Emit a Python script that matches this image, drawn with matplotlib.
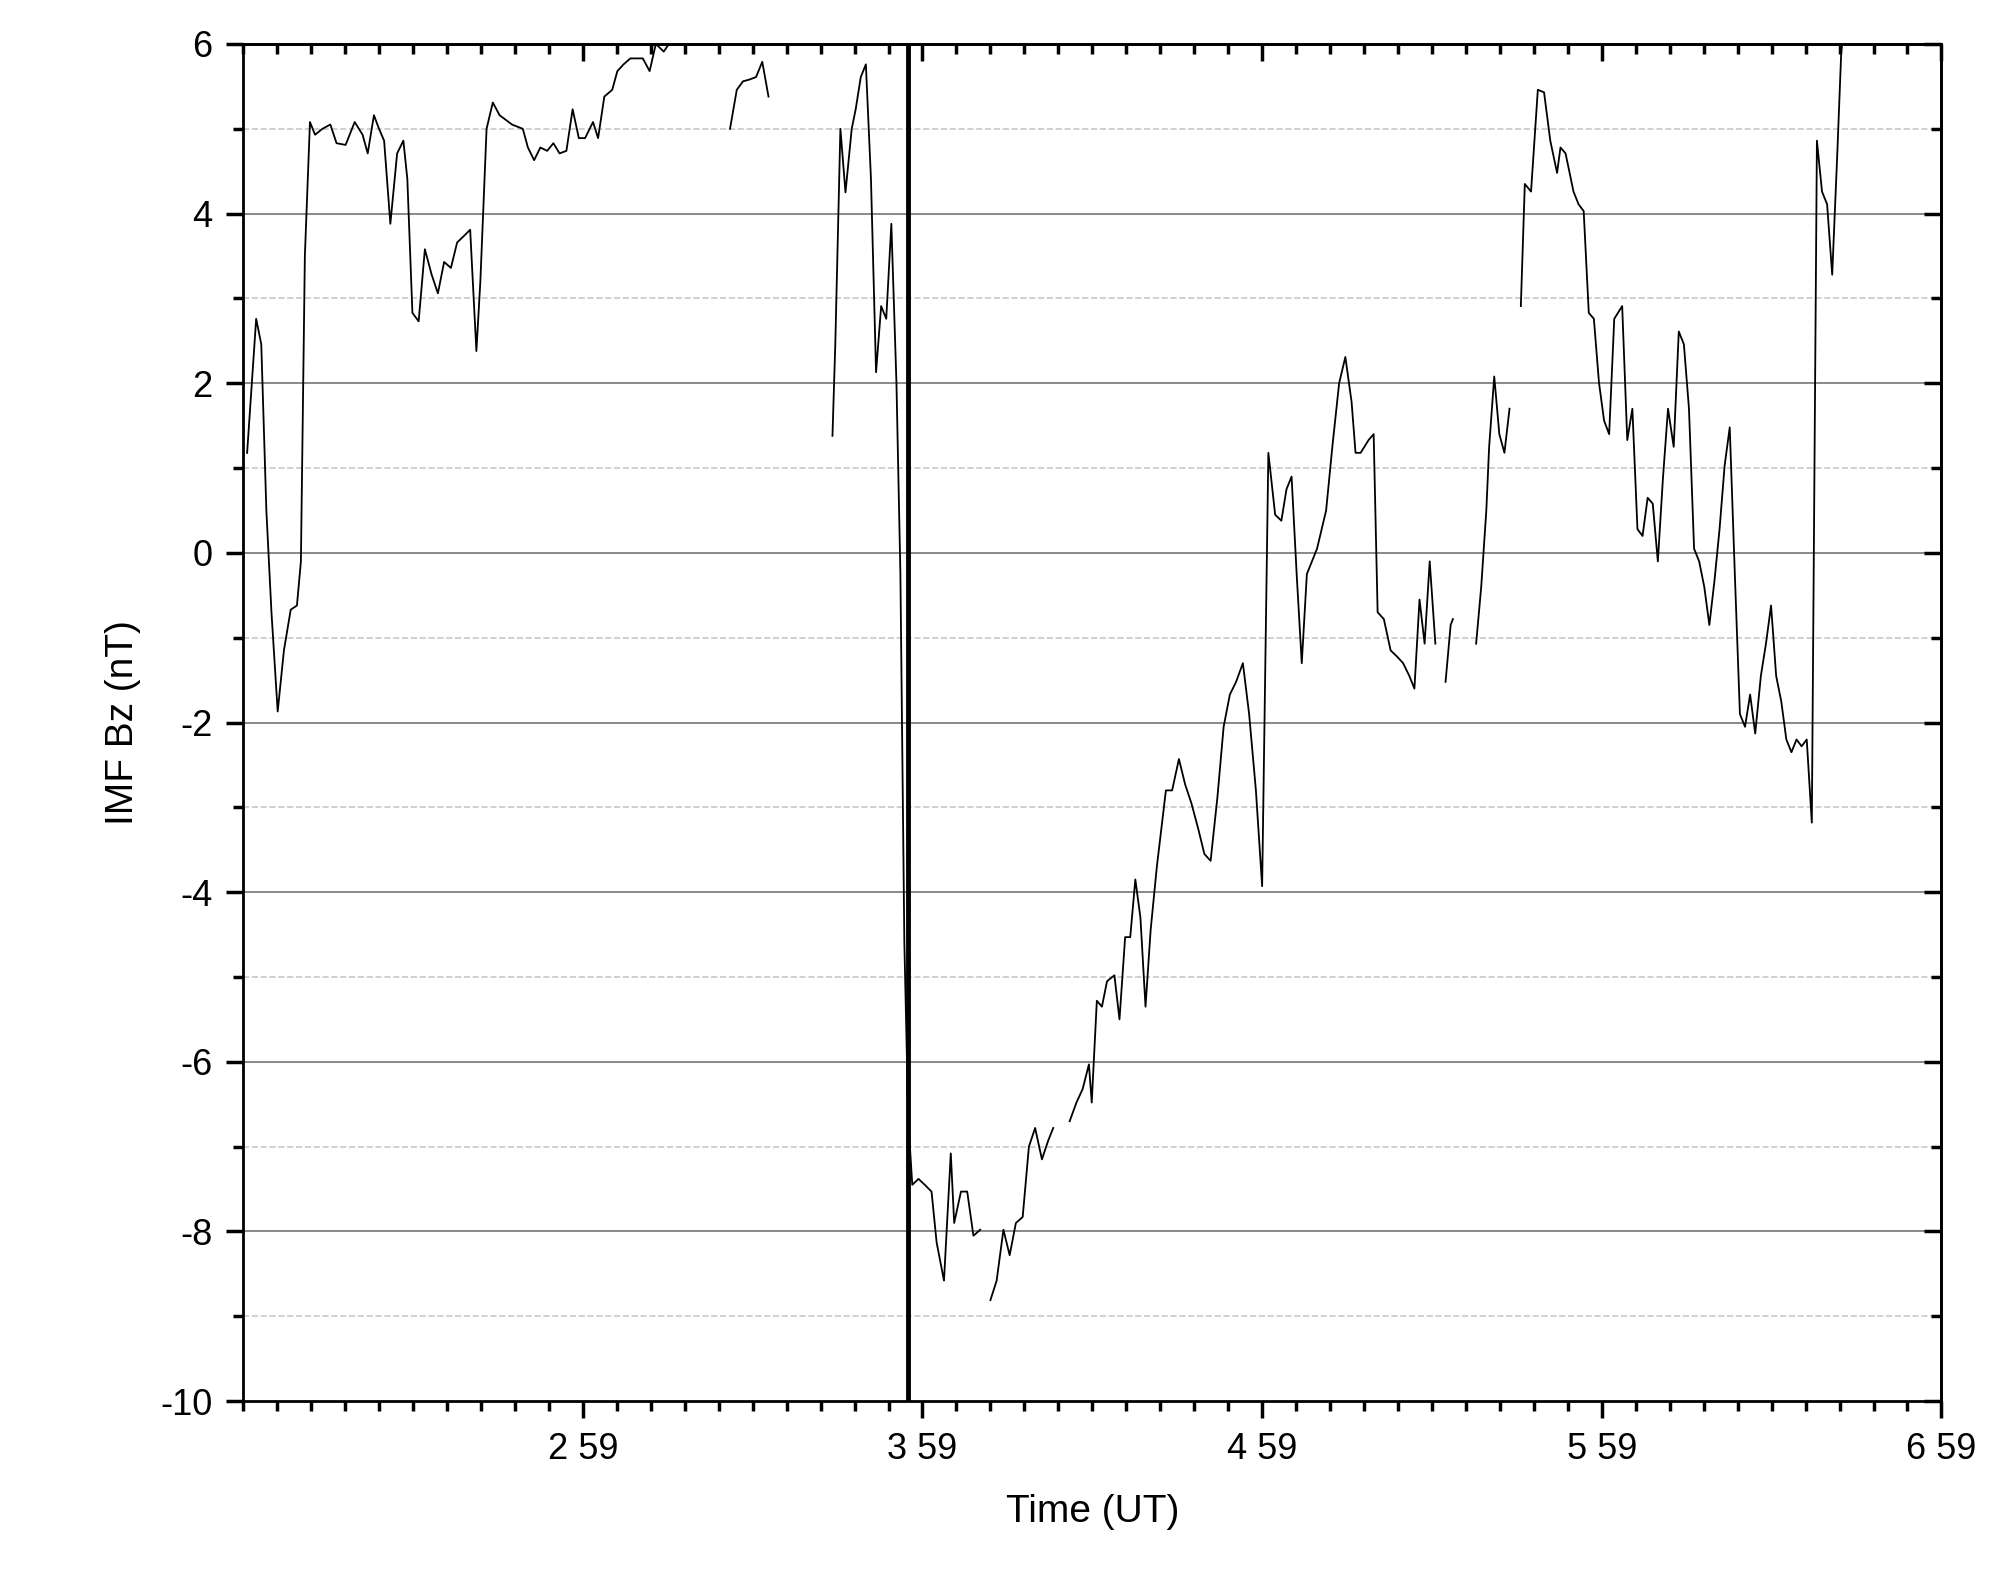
import numpy as np
import matplotlib.pyplot as plt

plt.rcParams['font.family'] = ['Liberation Sans', 'DejaVu Sans']
plt.rcParams['axes.unicode_minus'] = False

# minutes after 01:59 UT; None marks a data gap
minutes = [
    0.7, 2.3, 3.2, 4.1, 5.0, 6.1, 7.2, 8.4, 9.5, 10.2, 10.9, 11.8, 12.7, 14.0, 15.4, 16.5,
    18.1, 19.7, 21.1, 22.0, 23.1, 24.0, 24.9, 26.0, 27.2, 28.3, 29.0, 29.9, 31.0, 32.1,
    33.3, 34.4, 35.5, 36.7, 37.8, 38.9, 40.1, 41.2, 41.9, 43.0, 44.1, 45.3, 47.5, 49.4,
    50.3, 51.4, 52.5, 53.7, 54.8, 55.9, 57.1, 58.2, 59.3, 60.4, 61.8, 62.7, 63.8, 65.2,
    66.1, 67.2, 68.4, 69.5, 70.6, 71.8, 72.9, 74.3, 75.2, 76.3, 76.5,
    86.0, 87.2, 88.3, 89.4, 90.6, 91.7, 92.8, 93.0,
    104.1, 104.6, 105.5, 106.4, 107.5, 108.2, 109.1, 110.0, 110.9, 111.8, 112.7, 113.6,
    114.5, 115.4, 116.1, 116.8, 117.5, 118.2, 119.3, 120.4, 121.6, 122.5, 123.8, 125.0,
    125.6, 126.8, 127.9, 129.0, 130.2, 131.0,
    132.0, 133.1, 134.3, 135.4, 136.5, 137.7, 138.8, 139.9, 141.1, 142.2, 143.1, 144.0,
    146.0, 147.2, 148.3, 149.4, 149.9, 150.8, 151.7, 152.6, 153.9, 154.8, 155.8, 156.7,
    157.6, 158.5, 159.4, 160.3, 161.4, 163.0, 164.1, 165.3, 166.4, 167.5, 168.7, 169.8,
    170.9, 172.1, 173.2, 174.3, 175.4, 176.6, 177.7, 178.9, 180.0, 181.1, 182.3, 183.4,
    184.3, 185.2, 186.1, 187.0, 187.9, 188.8, 189.7, 191.3, 192.4, 193.6, 194.7, 195.8,
    196.5, 197.4, 198.8, 199.7, 200.4, 201.5, 202.7, 203.8, 204.9, 206.0, 206.9, 207.8,
    208.7, 209.6, 210.6, 211.0,
    212.4, 213.3, 213.7, 214.0,
    217.8, 218.7, 219.6, 220.1, 221.0, 221.9, 222.8, 223.7, 224.0,
    225.7, 226.4, 227.5, 228.7, 229.8, 230.9, 232.1, 232.7, 233.6, 235.0, 235.9, 236.8,
    237.7, 238.6, 239.5, 240.4, 241.3, 242.2, 243.6, 244.5, 245.4, 246.3, 247.2, 248.1,
    249.0, 249.9, 250.8, 251.7, 252.7, 253.6, 254.5, 255.4, 256.3, 257.2, 258.1, 259.0,
    259.9, 260.8, 261.7, 262.6, 263.5, 264.4, 265.3, 266.2, 267.1, 268.1, 269.0, 269.9,
    270.8, 271.7, 272.6, 273.5, 274.4, 275.3, 276.2, 277.1, 278.0, 278.9, 279.8, 280.7,
    281.6, 282.3, 283.0,
]

bz = [
    1.18, 2.76, 2.46, 0.5, -0.7, -1.87, -1.15, -0.67, -0.62, -0.1, 3.5, 5.08, 4.93, 5.0, 5.05, 4.83,
    4.81, 5.08, 4.93, 4.71, 5.16, 5.0, 4.86, 3.88, 4.71, 4.86, 4.41, 2.83, 2.73, 3.58,
    3.28, 3.06, 3.43, 3.36, 3.66, 3.73, 3.81, 2.38, 3.2, 5.0, 5.31, 5.16, 5.05, 5.0,
    4.78, 4.63, 4.78, 4.74, 4.83, 4.71, 4.74, 5.23, 4.89, 4.89, 5.08, 4.89, 5.38, 5.46,
    5.68, 5.76, 5.83, 5.83, 5.83, 5.68, 6.0, 5.91, 6.0, 6.3, None,
    5.0, 5.46, 5.56, 5.58, 5.61, 5.79, 5.38, None,
    1.38, 2.46, 5.0, 4.25, 5.0, 5.23, 5.61, 5.76, 4.41, 2.13, 2.91, 2.76,
    3.88, 2.01, -0.25, -4.6, -6.7, -7.45, -7.38, -7.45, -7.53, -8.13, -8.58, -7.08,
    -7.9, -7.53, -7.53, -8.05, -7.98, None,
    -8.81, -8.58, -7.98, -8.28, -7.9, -7.83, -7.0, -6.78, -7.15, -6.93, -6.78, None,
    -6.7, -6.48, -6.32, -6.03, -6.48, -5.28, -5.35, -5.05, -4.98, -5.5, -4.53, -4.53,
    -3.85, -4.3, -5.35, -4.45, -3.7, -2.8, -2.8, -2.43, -2.73, -2.95, -3.25, -3.55,
    -3.63, -2.88, -2.05, -1.67, -1.52, -1.3, -1.9, -2.8, -3.93, 1.18, 0.45, 0.38,
    0.75, 0.9, -0.25, -1.3, -0.25, -0.1, 0.05, 0.5, 1.25, 2.0, 2.31, 1.78,
    1.18, 1.18, 1.33, 1.4, -0.7, -0.78, -1.15, -1.22, -1.3, -1.45, -1.6, -0.55,
    -1.07, -0.1, -1.07, None,
    -1.52, -0.85, -0.78, None,
    -1.07, -0.4, 0.5, 1.25, 2.08, 1.4, 1.18, 1.7, None,
    2.91, 4.35, 4.26, 5.46, 5.43, 4.86, 4.48, 4.78, 4.71, 4.26, 4.11, 4.03,
    2.83, 2.76, 2.01, 1.56, 1.4, 2.76, 2.91, 1.33, 1.7, 0.28, 0.2, 0.65,
    0.58, -0.1, 0.88, 1.7, 1.25, 2.61, 2.46, 1.7, 0.05, -0.1, -0.4, -0.85,
    -0.33, 0.28, 1.03, 1.48, -0.25, -1.9, -2.05, -1.67, -2.13, -1.45, -1.07, -0.62,
    -1.45, -1.75, -2.2, -2.35, -2.2, -2.28, -2.2, -3.18, 4.86, 4.26, 4.11, 3.28,
    4.71, 5.91, 6.3,
]

event_minute = 117.5
xtick_minutes = [60, 120, 180, 240, 300]
xtick_labels = ["2 59", "3 59", "4 59", "5 59", "6 59"]

y = np.array([np.nan if v is None else v for v in bz], dtype=float)
x = np.array(minutes, dtype=float)

fig = plt.figure(figsize=(19.98, 15.88), dpi=100)
ax = fig.add_axes([0.1217, 0.1177, 0.85, 0.8546])

for yv in range(-9, 6, 2):
    ax.axhline(yv, color="#c8c8c8", linestyle="--", linewidth=1.2, zorder=0)
for yv in range(-8, 6, 2):
    ax.axhline(yv, color="#808080", linestyle="-", linewidth=1.3, zorder=0)

ax.plot(x, y, color="black", linewidth=1.3)
ax.axvline(event_minute, color="black", linewidth=3.5)

ax.set_xlim(0, 300)
ax.set_ylim(-10, 6)
ax.set_xticks(xtick_minutes)
ax.set_xticklabels(xtick_labels)
ax.set_xticks(np.arange(0, 301, 6), minor=True)
ax.set_yticks(np.arange(-10, 7, 2))
ax.set_yticks(np.arange(-10, 7, 1), minor=True)

ax.tick_params(axis="both", which="major", direction="out", length=12, width=2.5, labelsize=26, pad=10)
ax.tick_params(axis="both", which="minor", direction="out", length=7, width=2.5)

top = ax.secondary_xaxis("top")
top.set_xticks(xtick_minutes)
top.set_xticks(np.arange(0, 301, 6), minor=True)
top.tick_params(which="major", direction="in", length=12, width=2.5, labeltop=False)
top.tick_params(which="minor", direction="in", length=7, width=2.5)
top.set_xticklabels([])
right = ax.secondary_yaxis("right")
right.set_yticks(np.arange(-10, 7, 2))
right.set_yticks(np.arange(-10, 7, 1), minor=True)
right.tick_params(which="major", direction="in", length=12, width=2.5, labelright=False)
right.tick_params(which="minor", direction="in", length=7, width=2.5)
right.set_yticklabels([])

for a in (ax, top, right):
    for s in a.spines.values():
        s.set_linewidth(2)

ax.set_xlabel("Time (UT)", fontsize=28, labelpad=20)
ax.set_ylabel("IMF Bz (nT)", fontsize=28, labelpad=14)

fig.savefig("out.png", dpi=100)
